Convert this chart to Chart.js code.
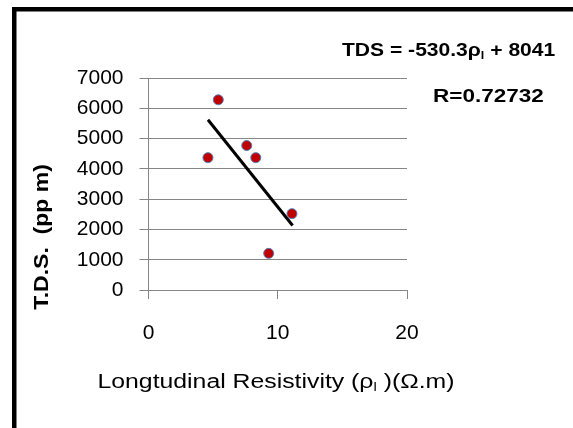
<!DOCTYPE html>
<html>
<head>
<meta charset="utf-8">
<script src="https://cdn.jsdelivr.net/npm/chart.js@4/dist/chart.umd.min.js"></script>
<style>
    html, body { margin: 0; padding: 0; background: #fff; }
    #wrap { width: 573px; height: 428px; }
</style>
</head>
<body>
<div id="wrap"><canvas id="tdsChart"></canvas></div>
<script>
// Pontos medidos (resistividade longitudinal x TDS)
const resistivity = [5.4, 4.6, 7.6, 8.3, 11.1, 9.3];
const tdsValues = [6280, 4370, 4770, 4370, 2520, 1210];

// Linha de tendência (extremos)
const trendX = [4.6, 11.15];
const trendY = [5620, 2130];

const xTicks = [0, 10, 20];
const yTicks = [0, 1000, 2000, 3000, 4000, 5000, 6000, 7000];

const FONT = '"Liberation Sans", Arial, sans-serif';
const GRID = '#868686';

// texto com subscrito (ρl), com esticamento horizontal
function drawRich(ctx, parts, x, y, size, weight, align, stretch) {
    ctx.save();
    ctx.textBaseline = 'middle';
    ctx.textAlign = 'left';
    const widths = parts.map(p => {
        ctx.font = `${weight} ${p.sub ? size * 0.6 : size}px ${FONT}`;
        return ctx.measureText(p.t).width;
    });
    const total = widths.reduce((a, b) => a + b, 0) * stretch;
    const x0 = align === 'center' ? x - total / 2 : x;
    ctx.translate(x0, y);
    ctx.scale(stretch, 1);
    let cx = 0;
    parts.forEach((p, i) => {
        ctx.font = `${weight} ${p.sub ? size * 0.6 : size}px ${FONT}`;
        ctx.fillText(p.t, cx, p.sub ? size * 0.3 : 0);
        cx += widths[i];
    });
    ctx.restore();
}

const decorPlugin = {
    id: 'decor',
    beforeDraw(chart) {
        const ctx = chart.ctx;
        ctx.save();
        ctx.fillStyle = '#fff';
        ctx.fillRect(0, 0, chart.width, chart.height);
        ctx.fillStyle = '#000';
        ctx.fillRect(12, 7, chart.width - 12, 4.5);
        ctx.fillRect(12, 7, 4.5, chart.height - 7);
        ctx.restore();
    },
    afterDraw(chart) {
        const ctx = chart.ctx;
        ctx.fillStyle = '#000';
        // equação e R
        drawRich(ctx, [{t: 'TDS = -530.3ρ'}, {t: 'l', sub: true}, {t: ' + 8041'}], 342, 51, 18, 'bold', 'left', 1.17);
        drawRich(ctx, [{t: 'R=0.72732'}], 433, 97, 18, 'bold', 'left', 1.25);
        // título eixo x
        drawRich(ctx, [{t: 'Longtudinal Resistivity (ρ'}, {t: 'l', sub: true}, {t: ' )(Ω.m)'}], 276, 382, 20, 'normal', 'center', 1.24);
        // título eixo y
        ctx.save();
        ctx.translate(42, 237);
        ctx.rotate(-Math.PI / 2);
        drawRich(ctx, [{t: 'T.D.S.  (pp m)'}], 0, 0, 20, 'bold', 'center', 1.15);
        ctx.restore();
    }
};

new Chart(document.getElementById('tdsChart'), {
    data: {
        datasets: [{
            type: 'scatter',
            label: 'TDS',
            data: resistivity.map((x, i) => ({ x: x, y: tdsValues[i] })),
            backgroundColor: '#c00000',
            borderColor: '#4f81bd',
            borderWidth: 1,
            pointRadius: 5,
            order: 1
        }, {
            type: 'line',
            label: 'Tendência',
            data: trendX.map((x, i) => ({ x: x, y: trendY[i] })),
            borderColor: '#000',
            borderWidth: 3,
            pointRadius: 0,
            fill: false,
            order: 2
        }]
    },
    options: {
        responsive: true,
        maintainAspectRatio: false,
        animation: false,
        layout: { padding: { left: 20, right: 166, top: 78, bottom: 0 } },
        plugins: {
            legend: { display: false },
            tooltip: { enabled: false }
        },
        scales: {
            x: {
                type: 'linear',
                min: 0, max: 20,
                afterBuildTicks: s => { s.ticks = xTicks.map(v => ({ value: v })); },
                afterFit: s => { s.height = 138; },
                grid: { drawOnChartArea: false, drawTicks: true, tickLength: 9, color: GRID, lineWidth: 1 },
                border: { display: true, color: GRID, width: 1 },
                ticks: { color: '#000', padding: 22, font: { family: FONT, size: 21 }, callback: v => String(v) }
            },
            y: {
                type: 'linear',
                min: 0, max: 7000,
                afterBuildTicks: s => { s.ticks = yTicks.map(v => ({ value: v })); },
                afterFit: s => { s.width = 128.5; },
                grid: { color: GRID, lineWidth: 1, tickLength: 9 },
                border: { display: true, color: GRID, width: 1 },
                ticks: { color: '#000', padding: 16, font: { family: FONT, size: 21 }, callback: v => String(v) }
            }
        }
    },
    plugins: [decorPlugin]
});
</script>
</body>
</html>
